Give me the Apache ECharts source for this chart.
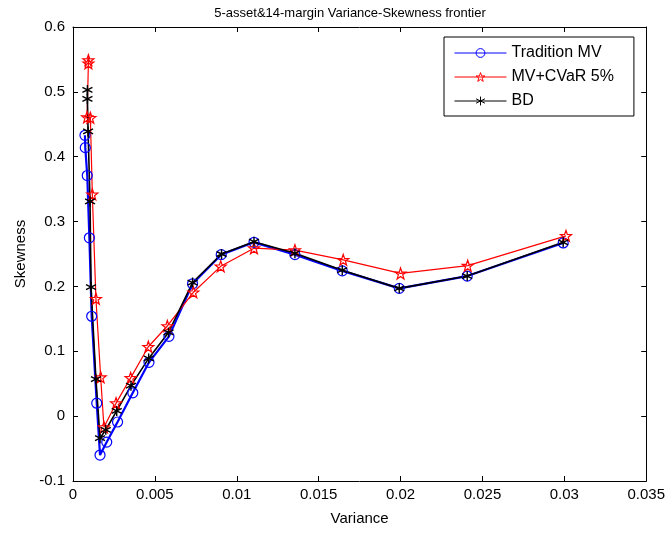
<!DOCTYPE html>
<html>
<head>
<meta charset="utf-8">
<script src="https://cdn.jsdelivr.net/npm/echarts@6/dist/echarts.min.js"></script>
<style>html,body{margin:0;padding:0;background:#fff}#c{width:668px;height:534px}</style>
</head>
<body>
<div id="c"></div>
<script>
// Data: [variance, skewness]
const tradMV = [
  [0.00073, 0.433], [0.00075, 0.414], [0.00087, 0.371], [0.00100, 0.275],
  [0.00114, 0.154], [0.00145, 0.020], [0.00165, -0.060], [0.00206, -0.040],
  [0.00272, -0.009], [0.00365, 0.036], [0.00464, 0.083], [0.00586, 0.123],
  [0.00730, 0.204], [0.00905, 0.249], [0.01105, 0.268], [0.01355, 0.249],
  [0.01644, 0.224], [0.01992, 0.197], [0.02407, 0.216], [0.02993, 0.267]
];
const mvCVaR = [
  [0.00094, 0.549], [0.00094, 0.544], [0.00086, 0.461], [0.00106, 0.460],
  [0.00118, 0.342], [0.00140, 0.181], [0.00169, 0.060], [0.00189, -0.017],
  [0.00263, 0.020], [0.00352, 0.059], [0.00460, 0.107], [0.00576, 0.139],
  [0.00735, 0.191], [0.00902, 0.231], [0.01105, 0.259], [0.01355, 0.256],
  [0.01650, 0.241], [0.02000, 0.220], [0.02410, 0.232], [0.03010, 0.278]
];
const bd = [
  [0.00088, 0.503], [0.00088, 0.489], [0.00092, 0.439], [0.00104, 0.331],
  [0.00110, 0.199], [0.00140, 0.057], [0.00165, -0.034], [0.00200, -0.021],
  [0.00267, 0.008], [0.00354, 0.047], [0.00462, 0.089], [0.00583, 0.129],
  [0.00730, 0.206], [0.00907, 0.250], [0.01105, 0.269], [0.01355, 0.251],
  [0.01644, 0.225], [0.01992, 0.197], [0.02407, 0.216], [0.02993, 0.268]
];
const seriesNames = ['Tradition MV', 'MV+CVaR 5%', 'BD'];
const seriesColors = ['#0000ff', '#ff0000', '#000000'];
const titleText = '5-asset&14-margin Variance-Skewness frontier';
const xName = 'Variance';
const yName = 'Skewness';

const FONT = '"Liberation Sans", Arial, sans-serif';
const starPath = 'path://M0,-10L2.35,-3.24L9.51,-3.09L3.8,1.24L5.88,8.09L0,4L-5.88,8.09L-3.8,1.24L-9.51,-3.09L-2.35,-3.24Z';
const asteriskPath = 'path://M0,-10L0,10M-8.66,-5L8.66,5M-8.66,5L8.66,-5';
const symbols = ['circle', starPath, asteriskPath];

const chart = echarts.init(document.getElementById('c'), null, {renderer: 'canvas'});
const axisCommon = {
  axisLine: {show: true, onZero: false, lineStyle: {color: '#000', width: 1}},
  axisTick: {show: true, inside: true, length: 5, lineStyle: {color: '#000'}},
  splitLine: {show: false}
};
const fmt = v => String(+v.toFixed(4));
chart.setOption({
  animation: false,
  backgroundColor: '#fff',
  title: {
    text: titleText, left: 345, top: 2, textAlign: 'center',
    textStyle: {fontFamily: FONT, fontSize: 13, fontWeight: 'normal', color: '#000'}
  },
  grid: {left: 73, right: 21, top: 27, bottom: 53, containLabel: false},
  legend: {
    orient: 'vertical', left: 444, top: 37,
    padding: [8, 20, 7, 10], itemGap: 8, itemWidth: 52, itemHeight: 11,
    backgroundColor: '#fff', borderColor: '#000', borderWidth: 1, borderRadius: 0,
    textStyle: {fontFamily: FONT, fontSize: 16, color: '#000'},
    data: seriesNames.map((n, i) => ({
      name: n,
      itemStyle: {color: 'rgba(0,0,0,0)', borderColor: seriesColors[i], borderWidth: 1},
      lineStyle: {color: seriesColors[i], width: 1}
    }))
  },
  xAxis: [
    Object.assign({type: 'value', min: 0, max: 0.035, interval: 0.005, position: 'bottom',
      name: xName, nameLocation: 'middle', nameGap: 30,
      nameTextStyle: {fontFamily: FONT, fontSize: 15, color: '#000'},
      axisLabel: {fontFamily: FONT, fontSize: 15, color: '#000', margin: 6, formatter: fmt}}, axisCommon),
    Object.assign({type: 'value', min: 0, max: 0.035, interval: 0.005, position: 'top',
      axisLabel: {show: false}}, axisCommon)
  ],
  yAxis: [
    Object.assign({type: 'value', min: -0.1, max: 0.6, interval: 0.1, position: 'left',
      name: yName, nameLocation: 'middle', nameGap: 45, nameRotate: 90,
      nameTextStyle: {fontFamily: FONT, fontSize: 15, color: '#000'},
      axisLabel: {fontFamily: FONT, fontSize: 15, color: '#000', margin: 8, formatter: fmt}}, axisCommon),
    Object.assign({type: 'value', min: -0.1, max: 0.6, interval: 0.1, position: 'right',
      axisLabel: {show: false}}, axisCommon)
  ],
  series: [
    {
      name: seriesNames[0], type: 'line', data: tradMV, xAxisIndex: 0, yAxisIndex: 0,
      symbol: symbols[0], symbolSize: 10, showAllSymbol: true,
      lineStyle: {color: seriesColors[0], width: 2.2},
      itemStyle: {color: 'rgba(0,0,0,0)', borderColor: seriesColors[0], borderWidth: 1.2}
    },
    {
      name: seriesNames[1], type: 'line', data: mvCVaR, xAxisIndex: 0, yAxisIndex: 0,
      symbol: symbols[1], symbolSize: 11, showAllSymbol: true,
      lineStyle: {color: seriesColors[1], width: 1.2},
      itemStyle: {color: 'rgba(0,0,0,0)', borderColor: seriesColors[1], borderWidth: 1.2}
    },
    {
      name: seriesNames[2], type: 'line', data: bd, xAxisIndex: 0, yAxisIndex: 0,
      symbol: symbols[2], symbolSize: 10, showAllSymbol: true,
      lineStyle: {color: seriesColors[2], width: 1.6},
      itemStyle: {color: 'rgba(0,0,0,0)', borderColor: seriesColors[2], borderWidth: 1.4}
    }
  ]
});
</script>
</body>
</html>
